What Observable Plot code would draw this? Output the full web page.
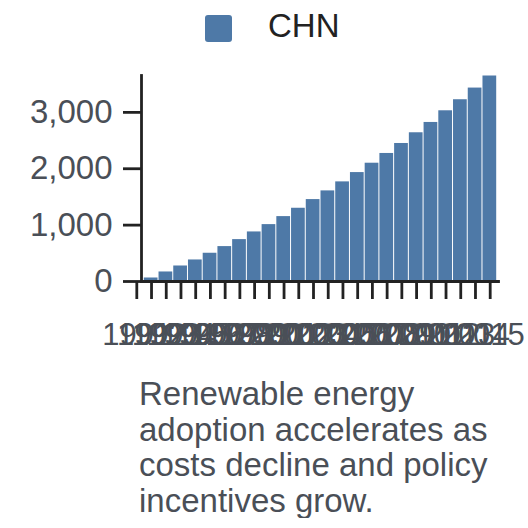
<!DOCTYPE html>
<html><head><meta charset="utf-8">
<script src="https://cdn.jsdelivr.net/npm/d3@7"></script>
<script src="https://cdn.jsdelivr.net/npm/@observablehq/plot@0.6"></script>
<style>
body{margin:0;background:#fff;font-family:Arial,"Liberation Sans",sans-serif;}
#legend{position:relative;height:56px;}
#legend .sw{position:absolute;left:205px;top:15px;width:27px;height:27px;border-radius:3px;}
#legend .lt{position:absolute;left:268px;top:9px;font-size:33px;line-height:33px;color:#222;}
#chart svg{display:block;}
#caption{margin:20px 0 0 139px;width:370px;font-size:33px;line-height:35.5px;color:#4a4f57;}
</style></head><body>
<div id="legend"></div>
<div id="chart"></div>
<div id="caption"></div>
<script>
const seriesName = "CHN";
const seriesColor = "#4e79a7";
const years = [1991,1992,1993,1994,1995,1996,1997,1998,1999,2000,2001,2002,2003,2004,2005,2006,2007,2008,2009,2010,2011,2012,2013,2014];
const values = [71,178,284,391,510,628,752,888,1018,1160,1308,1462,1616,1776,1941,2107,2280,2457,2647,2830,3037,3233,3440,3654];
const xTicks = [1991,1992,1993,1994,1995,1996,1997,1998,1999,2000,2001,2002,2003,2004,2005,2006,2007,2008,2009,2010,2011,2012,2013,2014,2015];
const yTicks = [0,1000,2000,3000];
const captionText = "Renewable energy adoption accelerates as costs decline and policy incentives grow.";

const data = years.map((year, i) => ({year, next: year + 1, value: values[i], series: seriesName}));

const legend = document.getElementById("legend");
legend.innerHTML = `<div class="sw" style="background:${seriesColor}"></div><div class="lt">${seriesName}</div>`;

const chart = Plot.plot({
  width: 528,
  height: 300,
  marginTop: 19,
  marginLeft: 141,
  marginRight: 30,
  marginBottom: 75,
  style: {fontSize: "33px", fontFamily: "Arial, 'Liberation Sans', sans-serif", color: "#4a4f57", background: "transparent", overflow: "visible"},
  x: {domain: [xTicks[0], xTicks[xTicks.length - 1]], insetLeft: 2.3, insetRight: 1.3, label: null},
  y: {domain: [0, d3.max(values)], label: null},
  marks: [
    Plot.rect(data, {x1: "year", x2: "next", y1: 0, y2: "value", fill: seriesColor, inset: 0.5}),
    Plot.frame({anchor: "left", stroke: "#222", strokeWidth: 2.8}),
    Plot.frame({anchor: "bottom", stroke: "#222", strokeWidth: 2.8}),
    Plot.axisX({ticks: xTicks, tickFormat: d => String(d), tickSize: 18, tickPadding: 23, stroke: "#222", strokeWidth: 2.8, fill: "#4a4f57", fontSize: 31, dx: -7, label: null}),
    Plot.axisY({ticks: yTicks, tickFormat: d3.format(","), tickSize: 18, tickPadding: 11, stroke: "#222", strokeWidth: 2.8, fill: "#4a4f57", fontSize: 33, label: null})
  ]
});
document.getElementById("chart").appendChild(chart);
document.getElementById("caption").textContent = captionText;
</script>
</body></html>
